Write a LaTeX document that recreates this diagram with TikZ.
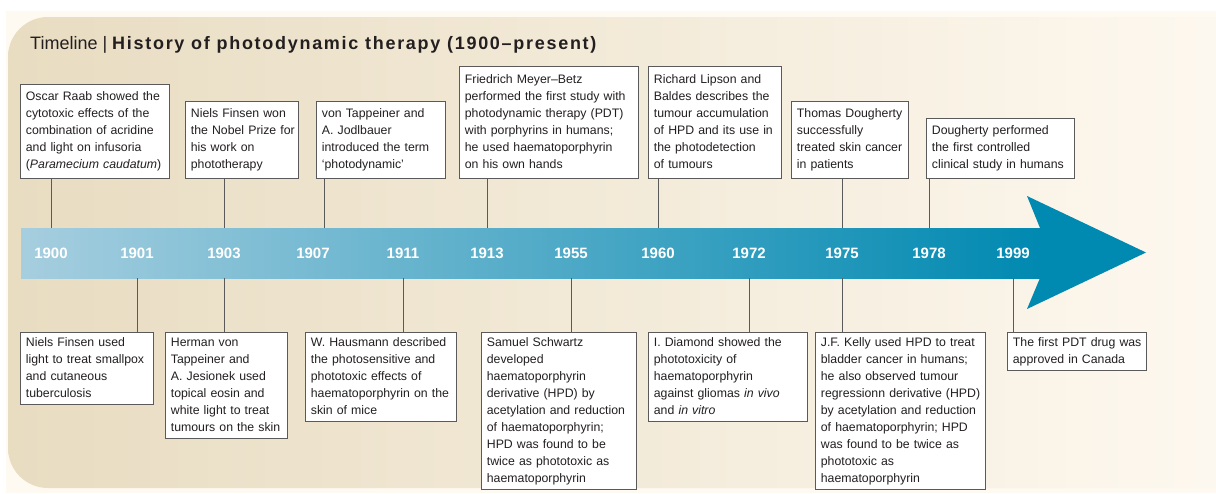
\documentclass[tikz,border=0pt]{standalone}
\usepackage{fontspec}
\setmainfont{Liberation Sans}
\newfontfamily\spacedsans{Liberation Sans}[LetterSpace=9.5]
\usetikzlibrary{positioning, calc}

\definecolor{panelbeige}{HTML}{E8DCC1}
\definecolor{panelcream}{HTML}{FEF9F1}
\definecolor{barlight}{HTML}{A6CEDF}
\definecolor{bardark}{HTML}{0089B1}
\definecolor{inkgray}{HTML}{231F20}
\definecolor{rulegray}{HTML}{5A5A5A}

% lines of an event, kept as written
\newcommand{\evlines}[1]{\begin{tabular}{@{}l@{}}#1\end{tabular}}

\begin{document}
\begin{tikzpicture}[
    x=1pt, y=-1pt,
    font=\fontsize{12.3}{17}\selectfont,
    % 1. Event boxes
    evbox/.style={draw=rulegray, fill=white, line width=0.8pt, anchor=north west, align=left, inner xsep=5.5pt, inner ysep=2pt, text=inkgray},
    evsize/.style 2 args={text width=#1, minimum height=#2},
    % 2. Timeline bar and years
    bar/.style={left color=barlight, right color=bardark, inner sep=0pt, outer sep=0pt, minimum width=1021pt, minimum height=50pt},
    year/.style={text=white, inner sep=0pt, font=\bfseries\fontsize{15}{15}\selectfont},
    % 3. Drops from the boxes to the bar
    tick/.style={draw=rulegray, line width=0.9pt}
]
\useasboundingbox (0,0) rectangle (1216,493);

% ===============================
% Background panel
% ===============================
\begin{scope}
    \clip (0,0) rectangle (1216,493);
    \fill[white] (0,0) rectangle (1216,493);
    \fill[panelcream] (6,11) rectangle (1216,493);
    \shade[left color=panelbeige, right color=panelcream, rounded corners=40pt] (8,17) rectangle (1260,488);
\end{scope}

% Title
\node[anchor=base west, inner sep=0pt, text=inkgray, font=\fontsize{18}{18}\selectfont] (title) at (30,49)
    {Timeline | {\spacedsans\bfseries History of photodynamic therapy (1900–present)}};

% ===============================
% Timeline arrow
% ===============================
\node[bar, anchor=west] (bar) at (21,253) {};
\fill[bardark] (1040,228) -- (1027,196) -- (1146,252.5) -- (1027,309) -- (1040,278) -- cycle;

\foreach \yr/\xx in {1900/51, 1901/137, 1903/224, 1907/313, 1911/403, 1913/487,
                      1955/571, 1960/658, 1972/749, 1975/842, 1978/929, 1999/1013}
    \node[year] (y\yr) at (\xx,253) {\yr};
\coordinate (c1907) at ([xshift=11pt]y1907.center);

% ===============================
% Events above the bar
% ===============================
\node[evbox, evsize={138pt}{94pt}] (raab) at (20,84) {\evlines{Oscar Raab showed the\\cytotoxic effects of the\\combination of acridine\\and light on infusoria\\(\textit{Paramecium caudatum})}};
\node[evbox, evsize={102pt}{77pt}] (finsenwon) at (185,101) {\evlines{Niels Finsen won\\the Nobel Prize for\\his work on\\phototherapy}};
\node[evbox, evsize={118pt}{77pt}] (jodl) at (316,101) {\evlines{von Tappeiner and\\A. Jodlbauer\\introduced the term\\‘photodynamic’}};
\node[evbox, evsize={168pt}{112pt}] (meyer) at (459,66) {\evlines{Friedrich Meyer–Betz\\performed the first study with\\photodynamic therapy (PDT)\\with porphyrins in humans;\\he used haematoporphyrin\\on his own hands}};
\node[evbox, evsize={122pt}{112pt}] (lipson) at (648,66) {\evlines{Richard Lipson and\\Baldes describes the\\tumour accumulation\\of HPD and its use in\\the photodetection\\of tumours}};
\node[evbox, evsize={106pt}{77pt}] (thomas) at (791,101) {\evlines{Thomas Dougherty\\successfully\\treated skin cancer\\in patients}};
\node[evbox, evsize={137pt}{60pt}] (dougperf) at (926,118) {\evlines{Dougherty performed\\the first controlled\\clinical study in humans}};

\draw[tick] (raab.south -| y1900) -- (bar.north -| y1900);
\draw[tick] (finsenwon.south -| y1903) -- (bar.north -| y1903);
\draw[tick] (jodl.south -| c1907) -- (bar.north -| c1907);
\draw[tick] (meyer.south -| y1913) -- (bar.north -| y1913);
\draw[tick] (lipson.south -| y1960) -- (bar.north -| y1960);
\draw[tick] (thomas.south -| y1975) -- (bar.north -| y1975);
\draw[tick] (dougperf.south -| y1978) -- (bar.north -| y1978);

% ===============================
% Events below the bar
% ===============================
\node[evbox, evsize={122pt}{72pt}] (finsenused) at (20,332) {\evlines{Niels Finsen used\\light to treat smallpox\\and cutaneous\\tuberculosis}};
\node[evbox, evsize={111pt}{105pt}] (herman) at (165,332) {\evlines{Herman von\\Tappeiner and\\A. Jesionek used\\topical eosin and\\white light to treat\\tumours on the skin}};
\node[evbox, evsize={140pt}{89pt}] (hausmann) at (305,332) {\evlines{W. Hausmann described\\the photosensitive and\\phototoxic effects of\\haematoporphyrin on the\\skin of mice}};
\node[evbox, evsize={144pt}{157pt}] (schwartz) at (481,332) {\evlines{Samuel Schwartz\\developed\\haematoporphyrin\\derivative (HPD) by\\acetylation and reduction\\of haematoporphyrin;\\HPD was found to be\\twice as phototoxic as\\haematoporphyrin}};
\node[evbox, evsize={148pt}{89pt}] (diamond) at (648,332) {\evlines{I. Diamond showed the\\phototoxicity of\\haematoporphyrin\\against gliomas \textit{in vivo}\\and \textit{in vitro}}};
\node[evbox, evsize={159pt}{157pt}] (kelly) at (815,332) {\evlines{J.F. Kelly used HPD to treat\\bladder cancer in humans;\\he also observed tumour\\regressionn derivative (HPD)\\by acetylation and reduction\\of haematoporphyrin; HPD\\was found to be twice as\\phototoxic as\\haematoporphyrin}};
\node[evbox, evsize={128pt}{36pt}] (pdt) at (1007,332) {\evlines{The first PDT drug was\\approved in Canada}};

\draw[tick] (bar.south -| y1901) -- (finsenused.north -| y1901);
\draw[tick] (bar.south -| y1903) -- (herman.north -| y1903);
\draw[tick] (bar.south -| y1911) -- (hausmann.north -| y1911);
\draw[tick] (bar.south -| y1955) -- (schwartz.north -| y1955);
\draw[tick] (bar.south -| y1972) -- (diamond.north -| y1972);
\draw[tick] (bar.south -| y1975) -- (kelly.north -| y1975);
\draw[tick] (bar.south -| y1999) -- (pdt.north -| y1999);

\end{tikzpicture}
\end{document}
